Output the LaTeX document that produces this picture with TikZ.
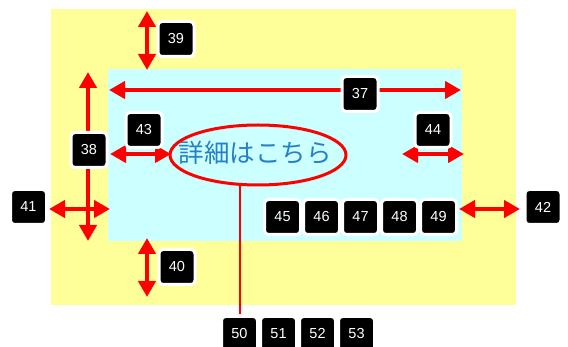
\documentclass[tikz,border=0pt]{standalone}
\usepackage{fontspec}
\setmainfont{Liberation Sans}
\newfontfamily\jpfont{Noto Sans CJK JP}[Scale=1.0]
\usetikzlibrary{arrows.meta,positioning,shapes.geometric}

\definecolor{padyellow}{HTML}{FFFF99}
\definecolor{boxcyan}{HTML}{CCFFFF}
\definecolor{linkblue}{HTML}{2580C8}

\begin{document}
\begin{tikzpicture}[
x=1pt, y=-1pt,
tag/.style={fill=black, draw=white, line width=3pt, rounded corners=4pt, minimum width=36pt, minimum height=35pt, inner sep=0pt, text=white, font=\fontsize{14.5}{14.5}\selectfont},
dim/.style={{Triangle[length=16pt,width=17pt]}-{Triangle[length=16pt,width=17pt]}, red, line width=4.5pt}
]
\useasboundingbox (0,0) rectangle (568,347);

% margin area and content area
\node[fill=padyellow, minimum width=465pt, minimum height=296pt, inner sep=0pt] (outer) at (283.5,157) {};
\node[fill=boxcyan, minimum width=354pt, minimum height=172pt, inner sep=0pt] (inner) at (285,155) {};

% link text with its ring
\node[text=linkblue, font=\jpfont\fontsize{25.5}{25.5}\selectfont, inner sep=0pt] (link) at (255,153) {詳細はこちら};
\node[ellipse, draw=red, line width=3pt, minimum width=176pt, minimum height=60pt] (ring) at (258,155) {};
\coordinate (lead) at (240,314);
\draw[red, line width=1.5pt] (lead) -- (240,184);

% end points of the dimension arrows
\coordinate (a39) at (147,11);  \coordinate (b39) at (147,70);
\coordinate (a40) at (147,238); \coordinate (b40) at (147,297);
\coordinate (a38) at (88,72);   \coordinate (b38) at (88,241);
\coordinate (a37) at (109,90);  \coordinate (b37) at (461,90);
\coordinate (a41) at (49,209);  \coordinate (b41) at (110,209);
\coordinate (a42) at (459,209); \coordinate (b42) at (520,209);
\coordinate (a43) at (110,154); \coordinate (b43) at (171,154);
\coordinate (a44) at (402,154); \coordinate (b44) at (464,154);

\draw[dim] (a39) -- (b39);
\draw[dim] (a40) -- (b40);
\draw[dim] (a38) -- (b38);
\draw[dim] (a37) -- (b37);
\draw[dim] (a41) -- (b41);
\draw[dim] (a42) -- (b42);
\draw[dim] (a43) -- (b43);
\draw[dim] (a44) -- (b44);

% number tags
\node[tag] (n39) at (176,39) {39};
\node[tag] (n37) at (360,94) {37};
\node[tag] (n38) at (89,150) {38};
\node[tag] (n43) at (144,130) {43};
\node[tag] (n44) at (433,130) {44};
\node[tag] (n40) at (177,267) {40};
\node[tag] (n41) at (28.5,207) {41};
\node[tag] (n42) at (543,207) {42};

\node[tag] (n45) at (282.5,217) {45};
\foreach \i [remember=\i as \prev (initially 45)] in {46,...,49}
  \node[tag, right=0pt of n\prev] (n\i) {\i};

\node[tag] (n50) at (239.5,334) {50};
\foreach \i [remember=\i as \prev (initially 50)] in {51,...,53}
  \node[tag, right=0pt of n\prev] (n\i) {\i};
\end{tikzpicture}
\end{document}
